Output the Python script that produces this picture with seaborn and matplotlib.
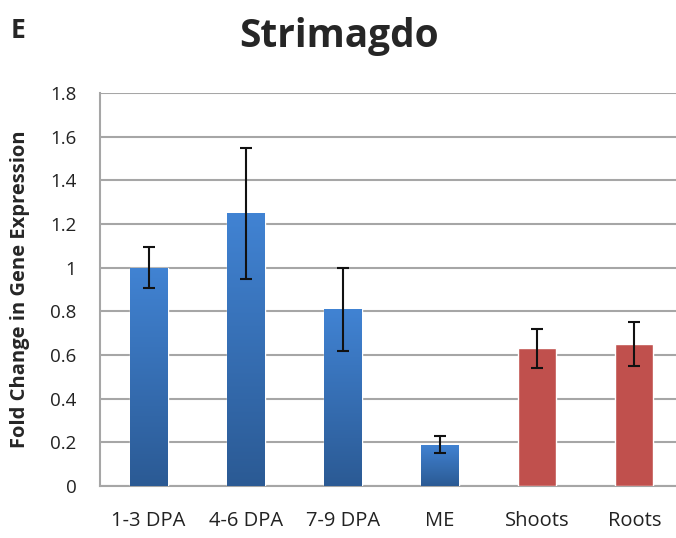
import numpy as np
import pandas as pd
import matplotlib
matplotlib.use("Agg")
import matplotlib.pyplot as plt
import seaborn as sns
from matplotlib.colors import LinearSegmentedColormap

# data
categories = ["1-3 DPA", "4-6 DPA", "7-9 DPA", "ME", "Shoots", "Roots"]
fold_change = [1.00, 1.25, 0.81, 0.19, 0.63, 0.65]
std_err = [0.095, 0.30, 0.19, 0.037, 0.088, 0.10]
groups = ["seed", "seed", "seed", "seed", "tissue", "tissue"]

BLUE_TOP = "#4183d3"
BLUE_BOTTOM = "#2b5a94"
RED = "#c0504d"
GRID = "#a6a6a6"

df = pd.DataFrame({"sample": categories, "fold": fold_change,
                   "err": std_err, "group": groups})

sns.set_style("white")
plt.rcParams["font.family"] = ["Open Sans", "DejaVu Sans"]

fig = plt.figure(figsize=(6.76, 5.38), dpi=100)
ax = fig.add_axes([100 / 676, 52 / 538, 583 / 676, 393 / 538])

palette = {c: (BLUE_BOTTOM if g == "seed" else RED) for c, g in zip(categories, groups)}
sns.barplot(data=df, x="sample", y="fold", hue="sample", palette=palette,
            width=0.39, legend=False, errorbar=None, saturation=1, ax=ax, zorder=3)

# vertical gradient on the blue bars
cmap = LinearSegmentedColormap.from_list("bluegrad", [BLUE_BOTTOM, BLUE_TOP])
grad = np.linspace(0, 1, 256).reshape(-1, 1)
for patch, g in zip(ax.patches, groups):
    if g != "seed":
        continue
    x0, y0 = patch.get_x(), patch.get_y()
    w, h = patch.get_width(), patch.get_height()
    im = ax.imshow(grad, cmap=cmap, origin="lower", aspect="auto",
                   extent=(x0, x0 + w, y0, y0 + h), zorder=3.5)
    im.set_clip_path(patch)

centers = [p.get_x() + p.get_width() / 2 for p in ax.patches]
heights = [p.get_height() for p in ax.patches]
ax.errorbar(centers, heights, yerr=df["err"], fmt="none", ecolor="#111111",
            elinewidth=1.5, capsize=4.5, capthick=1.5, zorder=5)

ax.set_xlim(-0.5, len(categories) - 0.5)
ax.set_ylim(0, 1.8)
yt = np.round(np.arange(0, 1.81, 0.2), 1)
ax.set_yticks(yt)
ax.set_yticklabels([f"{v:g}" for v in yt], fontsize=13.5, color="#222222")
ax.yaxis.grid(True, color=GRID, linewidth=1.5, zorder=0)
ax.set_axisbelow(True)

ax.set_xticks(range(len(categories)))
ax.set_xticklabels(categories, fontsize=14.5, color="#222222")
ax.set_xticks(np.arange(-0.5, len(categories), 1.0), minor=True)
ax.tick_params(axis="x", which="major", length=0, pad=18)
ax.tick_params(axis="x", which="minor", length=6, width=1.3, color=GRID, direction="out")
ax.tick_params(axis="y", length=6, width=1.3, color=GRID, direction="out", pad=11)

for side in ["top", "right"]:
    ax.spines[side].set_visible(False)
for side in ["left", "bottom"]:
    ax.spines[side].set_color(GRID)
    ax.spines[side].set_linewidth(1.5)

ax.set_xlabel("")
ax.set_ylabel("Fold Change in Gene Expression", fontsize=14.5, fontweight="bold")
ax.yaxis.set_label_coords(-70 / 583, 0.5)

fig.text(339 / 676, 1 - 36 / 538, "Strimagdo", fontsize=28, fontweight="bold",
         ha="center", va="center")
fig.text(11 / 676, 1 - 31 / 538, "E", fontsize=19, fontweight="bold",
         ha="left", va="center")

fig.savefig("out.png", dpi=100)
